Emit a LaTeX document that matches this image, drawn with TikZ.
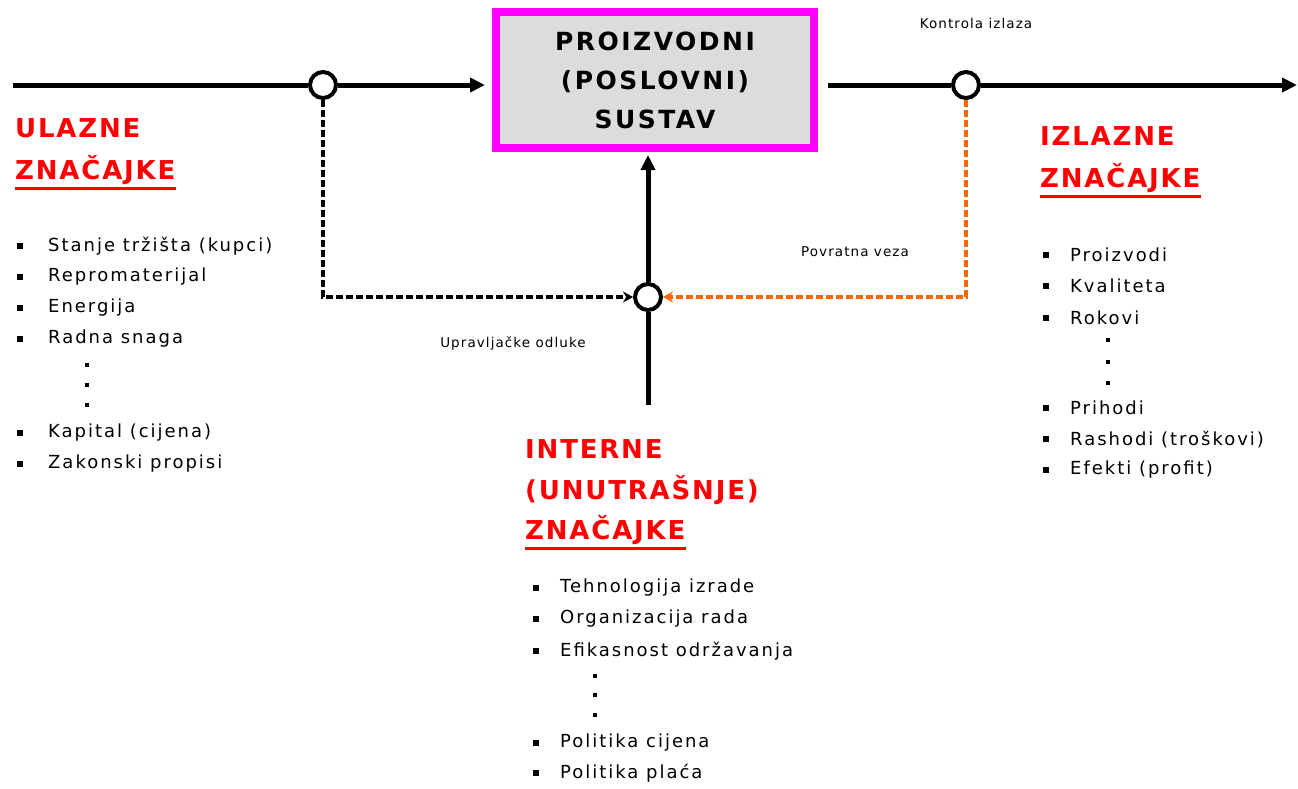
\documentclass[tikz,border=0pt]{standalone}
\usepackage{fontspec}
\setmainfont{DejaVu Sans}
\newfontfamily\itemfont[LetterSpace=11]{DejaVu Sans}
\newfontfamily\headfont[LetterSpace=7]{DejaVu Sans Bold}
\newfontfamily\boxfont[LetterSpace=10]{DejaVu Sans Bold}
\newfontfamily\smallfont[LetterSpace=8]{DejaVu Sans}
\usetikzlibrary{arrows.meta}
\definecolor{mag}{RGB}{255,0,255}
\definecolor{boxgray}{RGB}{220,220,220}
\definecolor{org}{RGB}{255,102,0}
\definecolor{hred}{RGB}{255,0,0}
\begin{document}
\begin{tikzpicture}[x=1pt,y=-1pt,
  flow/.style={line width=5pt},
  flowarr/.style={line width=5pt,-{Triangle[length=15pt,width=14pt]}},
  junc/.style={circle,draw=black,fill=white,line width=4pt,minimum size=26pt,inner sep=0pt},
  sysbox/.style={draw=mag,fill=boxgray,line width=8pt,minimum width=318pt,minimum height=136pt,align=center,
    font=\boxfont\fontsize{25}{39}\selectfont,inner sep=0pt},
  bdash/.style={line width=4pt,dash pattern=on 7pt off 3pt,-{Stealth[length=10pt,width=11pt]}},
  odash/.style={bdash,draw=org},
  head/.style={anchor=west,inner sep=0pt,text=hred,font=\headfont\fontsize{26}{30}\selectfont},
  small/.style={inner sep=0pt,font=\smallfont\fontsize{13.5}{15}\selectfont},
  item/.style={anchor=west,inner sep=0pt,font=\itemfont\fontsize{18}{20}\selectfont},
  bul/.style={fill=black,minimum size=6.5pt,inner sep=0pt},
  dotn/.style={fill=black,minimum size=4pt,inner sep=0pt},
  uline/.style={draw=hred,line width=3pt}
]
\useasboundingbox (0,0) rectangle (1298,788);
\fill[white] (0,0) rectangle (1298,788);

% main nodes
\coordinate (inL) at (13,85);
\node[junc] (c1) at (323,85) {};
\node[sysbox] (sys) at (655,80) {PROIZVODNI\\(POSLOVNI)\\SUSTAV};
\node[junc] (c2) at (966,85) {};
\coordinate (outR) at (1297,85);
\node[junc] (c3) at (648,297) {};
\coordinate (bot) at (648,405);

% connectors
\draw[flow] (inL) -- (c1);
\draw[flowarr,shorten >=7pt] (c1) -- (sys.west |- c1);
\draw[flow,shorten <=10pt] (sys.east |- c2) -- (c2);
\draw[flowarr] (c2) -- (outR);
\draw[flow] (bot) -- (c3);
\draw[flowarr,shorten >=3pt] (c3) -- (c3 |- sys.south);
\draw[bdash] (c1) |- (c3);
\draw[odash] (c2) |- (c3);

% small labels
\node[small] (lk) at (976,23) {Kontrola izlaza};
\node[small] (lp) at (855,252) {Povratna veza};
\node[small] (lu) at (513,343) {Upravljačke odluke};

% headings
\node[head] (h1a) at (15,128) {ULAZNE};
\node[head] (h1b) at (15,170) {ZNAČAJKE};
\draw[uline] ([yshift=-4pt]h1b.south west) -- ([yshift=-4pt]h1b.south east);
\node[head] (h2a) at (1040,136) {IZLAZNE};
\node[head] (h2b) at (1040,178) {ZNAČAJKE};
\draw[uline] ([yshift=-4pt]h2b.south west) -- ([yshift=-4pt]h2b.south east);
\node[head] (h3a) at (525,449) {INTERNE};
\node[head] (h3b) at (525,490) {(UNUTRAŠNJE)};
\node[head] (h3c) at (525,530) {ZNAČAJKE};
\draw[uline] ([yshift=-4pt]h3c.south west) -- ([yshift=-4pt]h3c.south east);

% left list
\foreach \y/\t [count=\i] in {246/Stanje tržišta (kupci),277/Repromaterijal,308/Energija,339/Radna snaga,433/Kapital (cijena),464/Zakonski propisi}{
  \node[bul] (lb\i) at (20,\y) {};
  \node[item] (lt\i) at (48,\y) {\t};
}
\foreach \y [count=\i] in {365,385,405}{\node[dotn] (ld\i) at (87,\y) {};}

% right list
\foreach \y/\t [count=\i] in {255/Proizvodi,286/Kvaliteta,318/Rokovi,408/Prihodi,439/Rashodi (troškovi),470/Efekti (profit)}{
  \node[bul] (rb\i) at (1046,\y) {};
  \node[item] (rt\i) at (1070,\y) {\t};
}
\foreach \y [count=\i] in {340,362,383}{\node[dotn] (rd\i) at (1108,\y) {};}

% bottom list
\foreach \y/\t [count=\i] in {588/Tehnologija izrade,619/Organizacija rada,651/Efikasnost održavanja,743/Politika cijena,773/Politika plaća}{
  \node[bul] (bb\i) at (536,\y) {};
  \node[item] (bt\i) at (560,\y) {\t};
}
\foreach \y [count=\i] in {676,695,715}{\node[dotn] (bd\i) at (595,\y) {};}
\end{tikzpicture}
\end{document}
